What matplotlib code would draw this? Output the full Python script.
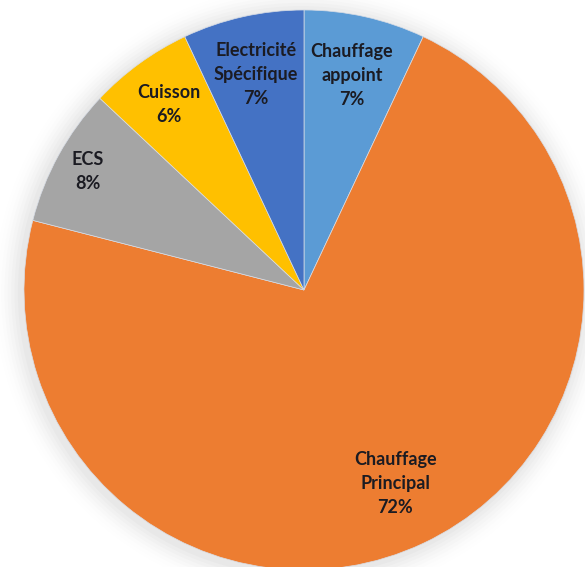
import numpy as np
import matplotlib
matplotlib.use("Agg")
import matplotlib.pyplot as plt

categories = ["Chauffage\nappoint", "Chauffage\nPrincipal", "ECS", "Cuisson", "Electricité\nSpécifique"]
values = [7, 72, 8, 6, 7]
colors = ["#5B9BD5", "#ED7D31", "#A5A5A5", "#FFC000", "#4472C4"]
label_radius = [0.785, 0.765, 0.88, 0.82, 0.79]

fig = plt.figure(figsize=(5.85, 5.67), dpi=100)
ax = fig.add_axes([0, 0, 1, 1])

# soft shadow
for i, a in enumerate(np.linspace(0.035, 0.005, 8)):
    c = plt.Circle((-0.01, -0.01), 1.0 + 0.012*(i+1), color="#808080", alpha=a, lw=0, zorder=0)
    ax.add_patch(c)

wedges, _ = ax.pie(values, colors=colors, startangle=90, counterclock=False, radius=1.0,
                   wedgeprops=dict(edgecolor="#d8dde6", linewidth=0.5))
for w in wedges:
    w.set_zorder(2)

for w, cat, v, r in zip(wedges, categories, values, label_radius):
    ang = np.deg2rad((w.theta1 + w.theta2) / 2)
    x, y = r*np.cos(ang), r*np.sin(ang)
    ax.text(x, y, f"{cat}\n{v}%", ha="center", va="center", fontsize=13, fontweight="bold",
            family="Lato", color="#1b1b22", linespacing=1.5, zorder=3)

ax.set_xlim(-304/280, (585-304)/280)
ax.set_ylim(-(567-290)/280, 290/280)
ax.set_aspect("equal")
ax.axis("off")

fig.savefig("out.png", dpi=100)
